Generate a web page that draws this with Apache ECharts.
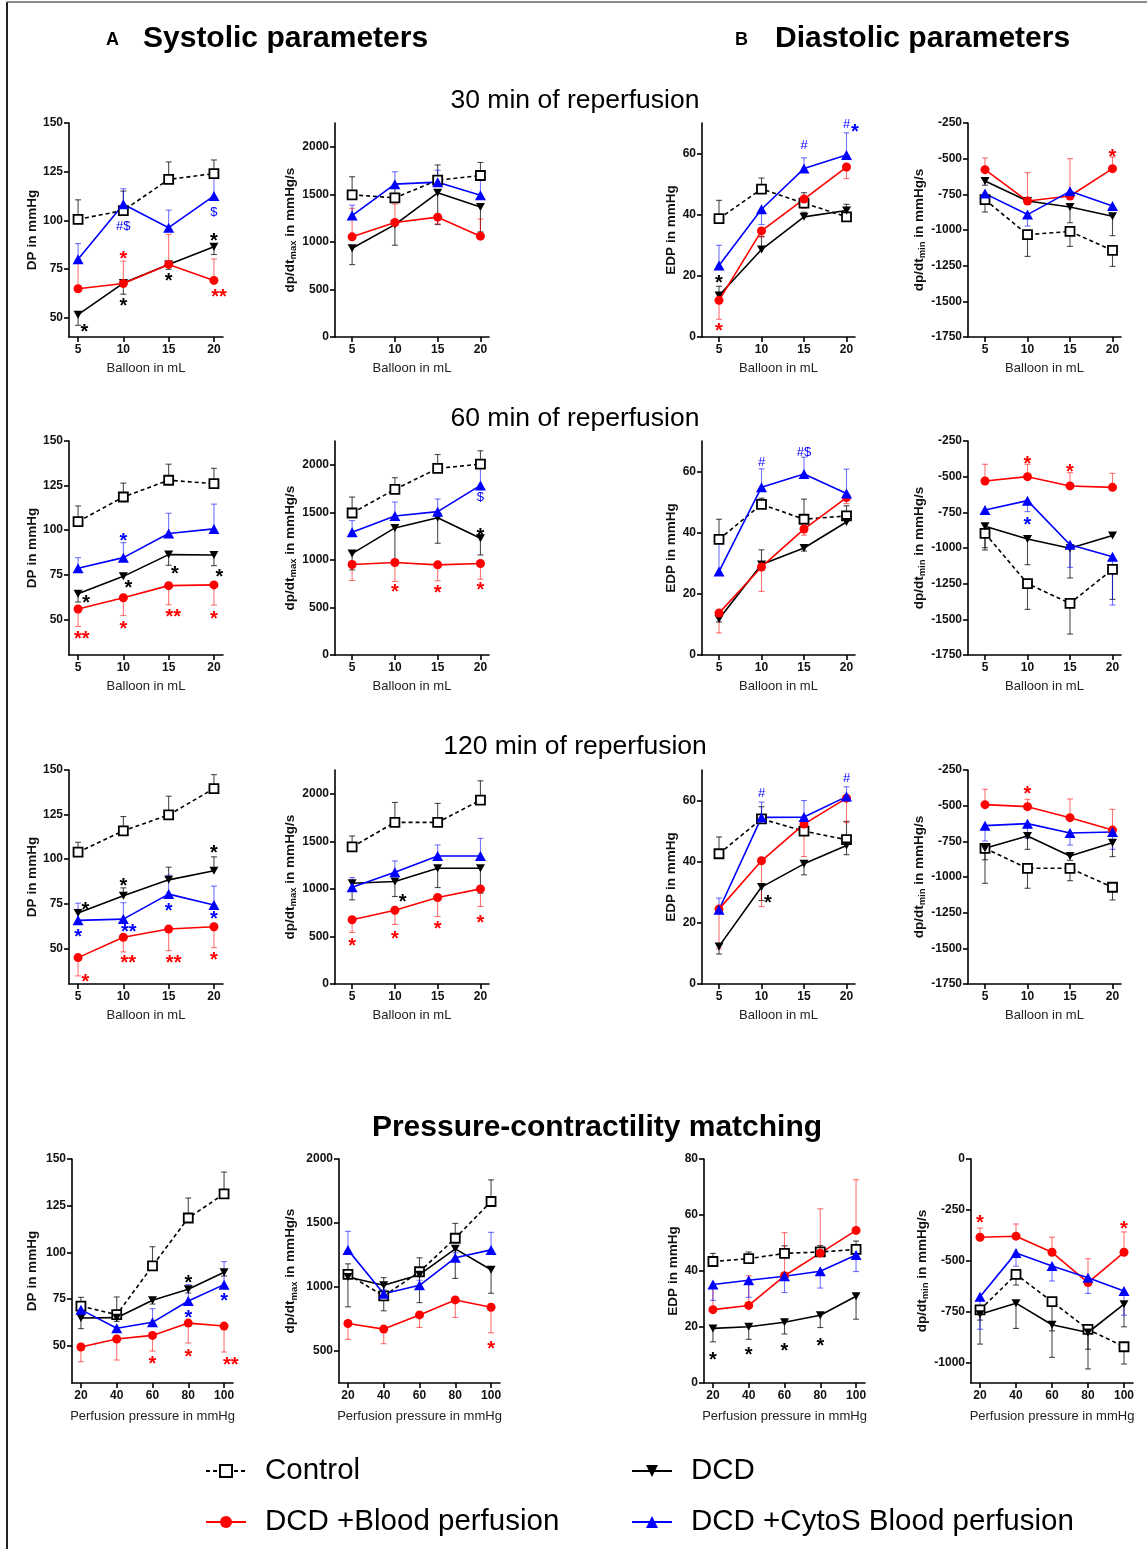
<!DOCTYPE html>
<html>
<head>
<meta charset="utf-8">
<script src="https://cdn.jsdelivr.net/npm/echarts@6/dist/echarts.min.js"></script>
<style>
  html, body { margin: 0; padding: 0; background: #fff; }
  #main { width: 1147px; height: 1549px; }
</style>
</head>
<body>
<div id="main"></div>
<script>
// groups: Control, DCD, DCD +Blood perfusion, DCD +CytoS Blood perfusion
var GROUPS = ['Control', 'DCD', 'DCD +Blood perfusion', 'DCD +CytoS Blood perfusion'];
var xBalloon = [5, 10, 15, 20];
var xPressure = [20, 40, 60, 80, 100];

// ---- 30 min of reperfusion ----
var dp30 = [[100.5, 105, 121, 124], [51.5, 67.7, 77.3, 86.4], [64.8, 67.5, 77.3, 69.1], [80, 108.2, 96.2, 112.5]];
var dp30Err = [[10, 10, 9, 7], [-5.5, -5.7, -2.5, -4], [15, 11.5, 15.5, 11], [8, 8, 9, 11]];
var dp30Marks = [[5.7, 45, '*', 1], [10, 58, '*', 1], [15, 71, '*', 1], [20, 91.5, '*', 1], [10, 82.5, '*', 2], [20.55, 63, '**', 2], [10, 97, '#$', 3], [20, 104, '$', 3]];

var dpdt30 = [[1495, 1463, 1649, 1698], [933, 1182, 1516, 1368], [1053, 1204, 1260, 1060], [1277, 1607, 1628, 1491]];
var dpdt30Err = [[190, 130, 160, 137], [-172, -217, -334, -263], [300, 195, -70, 180], [109, 130, 126, 160]];
var dpdt30Marks = [];

var edp30 = [[38.7, 48.4, 43.8, 39.3], [13.6, 28.6, 39.3, 41.4], [12, 34.7, 45.1, 55.6], [23.4, 41.8, 55.1, 59.5]];
var edp30Err = [[6, 3.6, 3.4, -1.5], [3, 4.3, 1.5, 2], [-6.2, -2, -3, -3.8], [6.6, -5, 3.5, 7.3]];
var edp30Marks = [[5, 19, '*', 1], [5, 3.3, '*', 2], [15, 62.7, '#', 3], [20, 69.6, '#', 3], [21, 68.5, '*', 3]];

var dpdtMin30 = [[-787, -1033, -1010, -1143], [-656, -797, -839, -904], [-577, -797, -762, -570], [-745, -892, -729, -832]];
var dpdtMin30Err = [[-87, -152, -105, -112], [-30, -20, -110, -136], [82, 199, 262, 82], [-30, -80, -20, -15]];
var dpdtMin30Marks = [[20, -458, '*', 2]];

// ---- 60 min of reperfusion ----
var dp60 = [[104.8, 118.6, 128, 126.1], [64.4, 74.1, 86.3, 86.1], [55.8, 62.1, 68.9, 69.3], [78.6, 84.6, 98.1, 100.7]];
var dp60Err = [[8.8, 7.8, 9, 8.6], [-4.7, 1.5, -6, -6], [-9.8, -10, -10.7, -11.3], [6, 8.4, 11.4, 13.9]];
var dp60Marks = [[5.4, 41.6, '**', 2], [10, 47.2, '*', 2], [15.5, 54.1, '**', 2], [20, 52.8, '*', 2],
  [5.9, 61.6, '*', 1], [10.55, 70.2, '*', 1], [15.7, 78, '*', 1], [20.6, 76.2, '*', 1], [10, 96.4, '*', 3]];

var dpdt60 = [[1493, 1741, 1962, 2007], [1066, 1336, 1444, 1227], [951, 972, 948, 962], [1290, 1462, 1507, 1783]];
var dpdt60Err = [[168, 123, 146, 140], [-171, -364, -269, -175], [-168, -199, -168, -165], [123, 146, 133, 220]];
var dpdt60Marks = [[10, 713, '*', 2], [15, 703, '*', 2], [20, 734, '*', 2], [20, 1300, '*', 1], [20, 1660, '$', 3]];

var edp60 = [[37.8, 49.3, 44.4, 45.5], [11.8, 29.6, 35, 43.5], [13.7, 28.8, 41.2, 51.5], [27.3, 54.9, 59.2, 52.8]];
var edp60Err = [[6.6, 2, 6.6, 3.3], [-1, 4.8, -1, 2], [-6.5, -8, -2, -2], [10, 6, 5.5, 8]];
var edp60Marks = [[10, 63, '#', 3], [15, 66.3, '#$', 3]];

var dpdtMin60 = [[-897, -1250, -1388, -1150], [-848, -937, -1002, -913], [-530, -500, -565, -575], [-734, -668, -977, -1061]];
var dpdtMin60Err = [[-117, -180, -215, -210], [-150, -180, -208, 15], [117, 87, 93, 98], [-20, -77, -159, -339]];
var dpdtMin60Marks = [[10, -383, '*', 2], [15, -435, '*', 2], [10, -804, '*', 3]];

// ---- 120 min of reperfusion ----
var dp120 = [[103.9, 115.9, 124.8, 139.6], [69.8, 79.5, 88.4, 93.5], [44.8, 56.2, 60.8, 62.1], [65.7, 66.4, 80.4, 74.3]];
var dp120Err = [[5.6, 8, 10.5, 7.8], [2, 4.4, 7.1, 7.8], [-10.3, -8.2, -12.1, -11.7], [9.6, 9.2, 10.6, 10.6]];
var dp120Marks = [[5.8, 33.6, '*', 2], [10.55, 44.4, '**', 2], [15.55, 44.4, '**', 2], [20, 46, '*', 2],
  [5.8, 74.3, '*', 1], [10, 87.5, '*', 1], [20, 106, '*', 1],
  [5, 59.1, '*', 3], [10.6, 61.6, '**', 3], [15, 73.3, '*', 3], [20, 69, '*', 3]];

var dpdt120 = [[1441, 1699, 1699, 1934], [1059, 1077, 1217, 1217], [675, 776, 909, 1000], [1017, 1175, 1346, 1346]];
var dpdt120Err = [[115, 210, 200, 202], [-174, -157, -203, -262], [-133, -150, -200, -185], [102, 119, 116, 185]];
var dpdt120Marks = [[5, 448, '*', 2], [10, 517, '*', 2], [15, 629, '*', 2], [20, 692, '*', 2], [10.9, 909, '*', 1]];

var edp120 = [[42.6, 54, 50, 47.2], [12.3, 31.7, 39.3, 45.3], [24.5, 40.3, 52.3, 60.8], [24.3, 54.5, 54.6, 61.3]];
var edp120Err = [[5.5, 4, 2, 6], [-2.5, -4.4, -3.6, -3], [-13, -15, -10.6, -8], [3.8, 5, 5.4, 3.2]];
var edp120Marks = [[10.75, 28.1, '*', 1], [10, 62.4, '#', 3], [20, 67.1, '#', 3]];

var dpdtMin120 = [[-799, -939, -939, -1072], [-799, -713, -853, -760], [-493, -507, -584, -671], [-640, -626, -692, -685]];
var dpdtMin120Err = [[-80, -140, -87, -89], [-245, -93, -30, -97], [108, 52, 131, 145], [-108, -103, -84, -121]];
var dpdtMin120Marks = [[10, -385, '*', 2]];

// ---- Pressure-contractility matching ----
var dpPress = [[71.2, 66.6, 92.7, 118.4, 131.3], [64.8, 65, 74.3, 80.2, 89.3], [49.3, 53.6, 55.5, 62.1, 60.5], [69.3, 59.3, 62.5, 73.9, 82.7]];
var dpPressErr = [[4.7, 9.5, 10.3, 10.7, 11.7], [-5.7, -2, -2, -2, -2], [-7.9, -11.3, -8.4, -10.7, -13.9], [2, -1.5, 7.3, 8.8, 12.3]];
var dpPressMarks = [[60, 42.7, '*', 2], [80, 46.6, '*', 2], [103.7, 41.8, '**', 2], [80, 85.9, '*', 1], [80, 67.5, '*', 3], [100, 76.6, '*', 3]];

var dpdtPress = [[1098, 930, 1119, 1381, 1668], [1078, 1013, 1096, 1298, 1135], [715, 671, 782, 899, 842], [1290, 948, 1013, 1228, 1290]];
var dpdtPressErr = [[83, 143, 109, 116, 169], [-233, -199, -218, -231, -184], [-124, -114, -98, -137, -200], [145, 30, 40, 40, 137]];
var dpdtPressMarks = [[100, 554, '*', 2]];

var edpPress = [[43.4, 44.4, 46.3, 46.8, 47.7], [19.5, 20.1, 21.7, 24.2, 31], [26.2, 27.7, 38.3, 46.4, 54.5], [35.2, 36.7, 38.1, 39.9, 45.7]];
var edpPressErr = [[2.9, 2.4, 2.7, 2.3, 3], [-4.8, -4.5, -4.2, -4.4, -8.2], [8.4, 10.6, 15.4, 15.8, 18.1], [-5.7, -6.1, -5.8, -6, -5.9]];
var edpPressMarks = [[20, 10, '*', 1], [40, 11.6, '*', 1], [60, 13, '*', 1], [80, 14.7, '*', 1]];

var dpdtMinPress = [[-741, -567, -700, -837, -922], [-762, -708, -814, -852, -713], [-384, -379, -458, -607, -458], [-676, -461, -526, -583, -648]];
var dpdtMinPressErr = [[-50, -52, -274, -97, -85], [-147, -124, -30, -179, -111], [45, 60, 74, 117, 100], [-160, -65, -73, -77, -119]];
var dpdtMinPressMarks = [[20, -293, '*', 2], [100, -322, '*', 2]];

// tick labels
var balloonTicks = [5, 10, 15, 20];
var pressureTicks = [20, 40, 60, 80, 100];
var dpTicks = [50, 75, 100, 125, 150];
var dpdtTicks = [0, 500, 1000, 1500, 2000];
var dpdtTicksPress = [500, 1000, 1500, 2000];
var edpTicks = [0, 20, 40, 60];
var edpTicksPress = [0, 20, 40, 60, 80];
var dpdtMinTicks = [-1750, -1500, -1250, -1000, -750, -500, -250];
var dpdtMinTicksPress = [-1000, -750, -500, -250, 0];

// ---- styling / layout ----
var FONT = '"Liberation Sans", Arial, sans-serif';
var COLORS = ['#000000', '#000000', '#ff0000', '#0000ff'];
var ERR_COLORS = ['rgba(0,0,0,0.7)', 'rgba(0,0,0,0.7)', 'rgba(255,0,0,0.55)', 'rgba(0,0,255,0.55)'];
var NAME_DP = 'DP in mmHg';
var NAME_MAX = 'dp/dt{sub|max} in mmHg/s';
var NAME_MIN = 'dp/dt{sub|min} in mmHg/s';
var NAME_EDP = 'EDP in mmHg';

var panels = [
  // row 1
  {x: xBalloon, y: dp30, e: dp30Err, m: dp30Marks, l: 69, t: 123, w: 154, h: 214, xr: [4, 21], yr: [40, 150], xt: balloonTicks, yt: dpTicks, yn: NAME_DP, gap: 30},
  {x: xBalloon, y: dpdt30, e: dpdt30Err, m: dpdt30Marks, l: 335, t: 123, w: 154, h: 214, xr: [3, 21], yr: [0, 2250], xt: balloonTicks, yt: dpdtTicks, yn: NAME_MAX, gap: 36},
  {x: xBalloon, y: edp30, e: edp30Err, m: edp30Marks, l: 702, t: 123, w: 153, h: 214, xr: [3, 21], yr: [0, 70], xt: balloonTicks, yt: edpTicks, yn: NAME_EDP, gap: 24},
  {x: xBalloon, y: dpdtMin30, e: dpdtMin30Err, m: dpdtMin30Marks, l: 968, t: 123, w: 153, h: 214, xr: [3, 21], yr: [-1750, -250], xt: balloonTicks, yt: dpdtMinTicks, yn: NAME_MIN, gap: 39},
  // row 2
  {x: xBalloon, y: dp60, e: dp60Err, m: dp60Marks, l: 69, t: 441, w: 154, h: 214, xr: [4, 21], yr: [30, 150], xt: balloonTicks, yt: dpTicks, yn: NAME_DP, gap: 30},
  {x: xBalloon, y: dpdt60, e: dpdt60Err, m: dpdt60Marks, l: 335, t: 441, w: 154, h: 214, xr: [3, 21], yr: [0, 2250], xt: balloonTicks, yt: dpdtTicks, yn: NAME_MAX, gap: 36},
  {x: xBalloon, y: edp60, e: edp60Err, m: edp60Marks, l: 702, t: 441, w: 153, h: 214, xr: [3, 21], yr: [0, 70], xt: balloonTicks, yt: edpTicks, yn: NAME_EDP, gap: 24},
  {x: xBalloon, y: dpdtMin60, e: dpdtMin60Err, m: dpdtMin60Marks, l: 968, t: 441, w: 153, h: 214, xr: [3, 21], yr: [-1750, -250], xt: balloonTicks, yt: dpdtMinTicks, yn: NAME_MIN, gap: 39},
  // row 3
  {x: xBalloon, y: dp120, e: dp120Err, m: dp120Marks, l: 69, t: 770, w: 154, h: 214, xr: [4, 21], yr: [30, 150], xt: balloonTicks, yt: dpTicks, yn: NAME_DP, gap: 30},
  {x: xBalloon, y: dpdt120, e: dpdt120Err, m: dpdt120Marks, l: 335, t: 770, w: 154, h: 214, xr: [3, 21], yr: [0, 2250], xt: balloonTicks, yt: dpdtTicks, yn: NAME_MAX, gap: 36},
  {x: xBalloon, y: edp120, e: edp120Err, m: edp120Marks, l: 702, t: 770, w: 153, h: 214, xr: [3, 21], yr: [0, 70], xt: balloonTicks, yt: edpTicks, yn: NAME_EDP, gap: 24},
  {x: xBalloon, y: dpdtMin120, e: dpdtMin120Err, m: dpdtMin120Marks, l: 968, t: 770, w: 153, h: 214, xr: [3, 21], yr: [-1750, -250], xt: balloonTicks, yt: dpdtMinTicks, yn: NAME_MIN, gap: 39},
  // row 4
  {x: xPressure, y: dpPress, e: dpPressErr, m: dpPressMarks, l: 72, t: 1159, w: 161, h: 224, xr: [15, 105], yr: [30, 150], xt: pressureTicks, yt: dpTicks, yn: NAME_DP, gap: 33, press: true},
  {x: xPressure, y: dpdtPress, e: dpdtPressErr, m: dpdtPressMarks, l: 339, t: 1159, w: 161, h: 224, xr: [15, 105], yr: [250, 2000], xt: pressureTicks, yt: dpdtTicksPress, yn: NAME_MAX, gap: 40, press: true},
  {x: xPressure, y: edpPress, e: edpPressErr, m: edpPressMarks, l: 704, t: 1159, w: 161, h: 224, xr: [15, 105], yr: [0, 80], xt: pressureTicks, yt: edpTicksPress, yn: NAME_EDP, gap: 24, press: true},
  {x: xPressure, y: dpdtMinPress, e: dpdtMinPressErr, m: dpdtMinPressMarks, l: 971, t: 1159, w: 162, h: 224, xr: [15, 105], yr: [-1100, 0], xt: pressureTicks, yt: dpdtMinTicksPress, yn: NAME_MIN, gap: 40, press: true}
];

var grids = [], xAxes = [], yAxes = [], series = [];

var axisLineStyle = {lineStyle: {color: '#000', width: 1.6}, onZero: false};

function makeErrRender() {
  return function (params, api) {
    var x = api.value(0), y = api.value(1), e = api.value(2), g = api.value(3);
    var p0 = api.coord([x, y]);
    var p1 = api.coord([x, y + e]);
    var c = ERR_COLORS[g];
    return {
      type: 'group',
      children: [
        {type: 'line', shape: {x1: p0[0], y1: p0[1], x2: p1[0], y2: p1[1]}, style: {stroke: c, lineWidth: 1.1}},
        {type: 'line', shape: {x1: p1[0] - 3, y1: p1[1], x2: p1[0] + 3, y2: p1[1]}, style: {stroke: c, lineWidth: 1.1}}
      ]
    };
  };
}

function makeMarkRender(marks) {
  return function (params, api) {
    var mk = marks[params.dataIndex];
    var p = api.coord([mk[0], mk[1]]);
    var star = mk[2].indexOf('*') >= 0;
    return {
      type: 'text',
      x: p[0], y: p[1] + (star ? 5 : 0),
      style: {
        text: mk[2],
        fill: COLORS[mk[3]],
        font: (star ? 'bold 20px ' : '13px ') + FONT,
        align: 'center',
        verticalAlign: 'middle'
      }
    };
  };
}

panels.forEach(function (p, i) {
  grids.push({left: p.l, top: p.t, width: p.w, height: p.h, containLabel: false});
  xAxes.push({
    type: 'value', gridIndex: i, min: p.xr[0], max: p.xr[1],
    name: p.press ? 'Perfusion pressure in mmHg' : 'Balloon in mL',
    nameLocation: 'middle', nameGap: p.press ? 27 : 25,
    nameTextStyle: {fontFamily: FONT, fontSize: 13, color: '#222'},
    axisLine: axisLineStyle,
    axisTick: {show: true, inside: false, length: 5, lineStyle: {color: '#000', width: 1.6}, customValues: p.xt},
    axisLabel: {customValues: p.xt, fontFamily: FONT, fontSize: 12, fontWeight: 'bold', color: '#111', margin: 7,
      formatter: function (v) { return String(v); }},
    splitLine: {show: false}
  });
  yAxes.push({
    type: 'value', gridIndex: i, min: p.yr[0], max: p.yr[1],
    name: p.yn, nameLocation: 'middle', nameGap: p.gap,
    nameTextStyle: {fontFamily: FONT, fontSize: 13.5, fontWeight: 'bold', color: '#111',
      rich: {sub: {fontFamily: FONT, fontSize: 9.5, fontWeight: 'bold', color: '#111', padding: [7, 0, 0, 0], verticalAlign: 'bottom'}}},
    axisLine: axisLineStyle,
    axisTick: {show: true, inside: false, length: 5, lineStyle: {color: '#000', width: 1.6}, customValues: p.yt},
    axisLabel: {customValues: p.yt, fontFamily: FONT, fontSize: 12, fontWeight: 'bold', color: '#111', margin: 6,
      formatter: function (v) { return String(v); }},
    splitLine: {show: false}
  });

  // error bars
  var errData = [];
  for (var g = 0; g < 4; g++) {
    for (var k = 0; k < p.x.length; k++) {
      errData.push([p.x[k], p.y[g][k], p.e[g][k], g]);
    }
  }
  series.push({
    type: 'custom', name: 'err' + i, xAxisIndex: i, yAxisIndex: i, z: 1, silent: true,
    renderItem: makeErrRender(), data: errData, clip: false
  });

  // lines
  for (var g2 = 0; g2 < 4; g2++) {
    var d = p.x.map(function (xv, k) { return [xv, p.y[g2][k]]; });
    var s = {
      type: 'line', name: GROUPS[g2], xAxisIndex: i, yAxisIndex: i, data: d, z: 3,
      animation: false, silent: true,
      lineStyle: {color: COLORS[g2], width: 1.6},
      itemStyle: {color: COLORS[g2]},
      symbolSize: 9
    };
    if (g2 === 0) {
      s.symbol = 'rect';
      s.symbolSize = 9;
      s.lineStyle.type = [4, 3];
      s.itemStyle = {color: '#ffffff', borderColor: '#000', borderWidth: 1.8};
    } else if (g2 === 1) {
      s.symbol = 'triangle';
      s.symbolRotate = 180;
      s.symbolSize = [9, 8];
    } else if (g2 === 2) {
      s.symbol = 'circle';
      s.symbolSize = 9;
    } else {
      s.symbol = 'triangle';
      s.symbolSize = [11, 10];
    }
    series.push(s);
  }

  // significance marks
  if (p.m.length) {
    series.push({
      type: 'custom', name: 'mark' + i, xAxisIndex: i, yAxisIndex: i, z: 5, silent: true, clip: false,
      renderItem: makeMarkRender(p.m),
      data: p.m.map(function (mk) { return [mk[0], mk[1]]; })
    });
  }
});

var legendBase = {
  orient: 'horizontal', itemWidth: 40, itemHeight: 15, selectedMode: false,
  textStyle: {fontFamily: FONT, fontSize: 29.5, color: '#000', padding: [0, 0, 0, 14]}
};
var legends = [
  Object.assign({}, legendBase, {data: ['Control'], left: 200, top: 1451}),
  Object.assign({}, legendBase, {data: ['DCD'], left: 626, top: 1451}),
  Object.assign({}, legendBase, {data: ['DCD +Blood perfusion'], left: 200, top: 1502}),
  Object.assign({}, legendBase, {data: ['DCD +CytoS Blood perfusion'], left: 626, top: 1502})
];

var texts = [
  {type: 'text', left: 106, top: 31, style: {text: 'A', font: 'bold 18px ' + FONT, fill: '#000'}},
  {type: 'text', left: 143, top: 24, style: {text: 'Systolic parameters', font: 'bold 30px ' + FONT, fill: '#000'}},
  {type: 'text', left: 735, top: 31, style: {text: 'B', font: 'bold 18px ' + FONT, fill: '#000'}},
  {type: 'text', left: 775, top: 24, style: {text: 'Diastolic parameters', font: 'bold 30px ' + FONT, fill: '#000'}},
  {type: 'text', x: 575, y: 101, style: {text: '30 min of reperfusion', font: '26.5px ' + FONT, fill: '#000', align: 'center', verticalAlign: 'middle'}},
  {type: 'text', x: 575, y: 419, style: {text: '60 min of reperfusion', font: '26.5px ' + FONT, fill: '#000', align: 'center', verticalAlign: 'middle'}},
  {type: 'text', x: 575, y: 747, style: {text: '120 min of reperfusion', font: '26.5px ' + FONT, fill: '#000', align: 'center', verticalAlign: 'middle'}},
  {type: 'text', x: 597, y: 1128, style: {text: 'Pressure-contractility matching', font: 'bold 30px ' + FONT, fill: '#000', align: 'center', verticalAlign: 'middle'}},
  {type: 'line', shape: {x1: 7, y1: 2, x2: 7, y2: 1549}, style: {stroke: '#222', lineWidth: 2}},
  {type: 'line', shape: {x1: 7, y1: 2, x2: 1147, y2: 2}, style: {stroke: '#666', lineWidth: 1.5}}
];

var chart = echarts.init(document.getElementById('main'));
chart.setOption({
  animation: false,
  backgroundColor: '#ffffff',
  grid: grids,
  xAxis: xAxes,
  yAxis: yAxes,
  legend: legends,
  graphic: texts,
  series: series
});
</script>
</body>
</html>
